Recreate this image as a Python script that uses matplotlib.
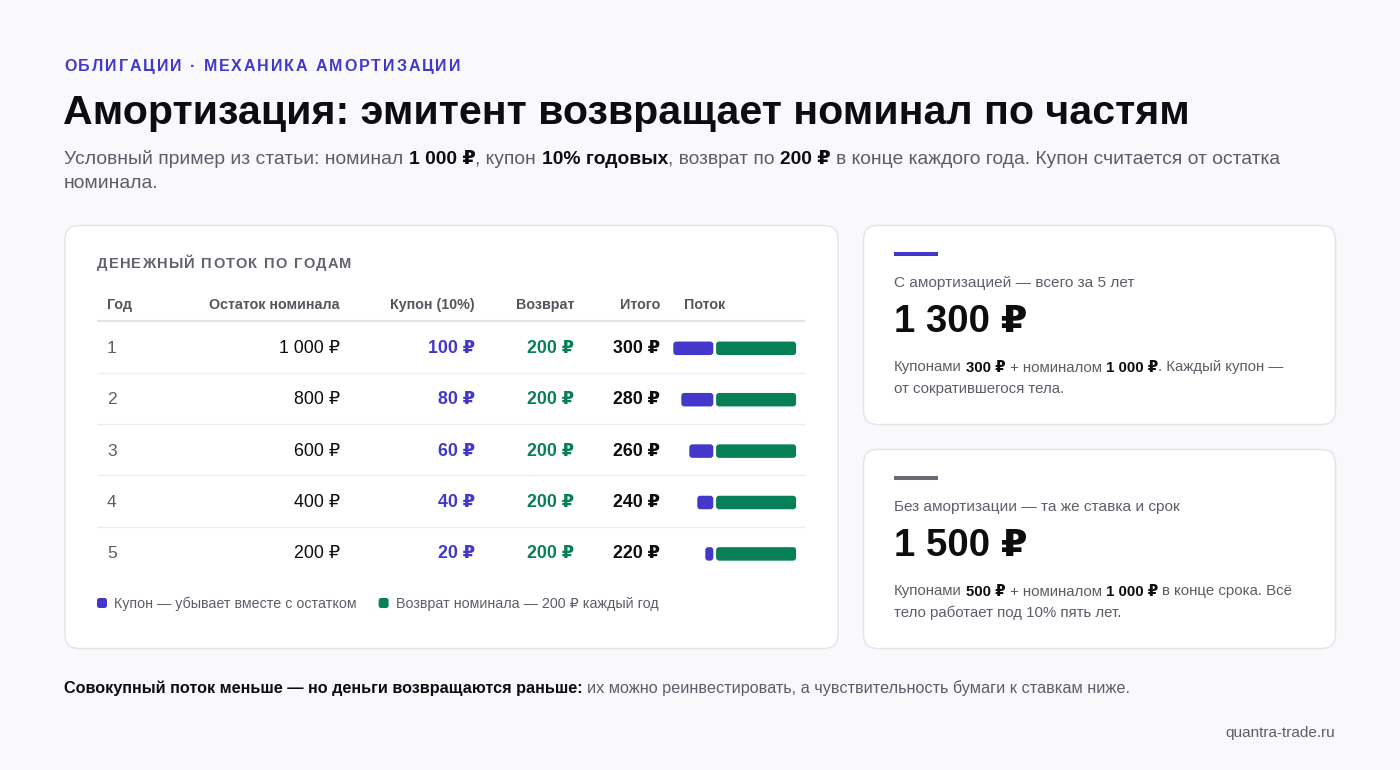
import matplotlib.pyplot as plt
from matplotlib.patches import FancyBboxPatch

plt.rcParams['font.family'] = ['Liberation Sans', 'DejaVu Sans']

# ---------------- данные ----------------
years = [1, 2, 3, 4, 5]
remainder = [1000, 800, 600, 400, 200]
coupon = [100, 80, 60, 40, 20]
repay = [200, 200, 200, 200, 200]
total = [300, 280, 260, 240, 220]
columns = ['Год', 'Остаток номинала', 'Купон (10%)', 'Возврат', 'Итого', 'Поток']
sum_amort = 1300
sum_plain = 1500
coupons_amort = 300
coupons_plain = 500
nominal = 1000

# ---------------- стиль ----------------
BG = '#f9f9fc'
CARD_EDGE = '#e3e3ea'
BLUE = '#4338ca'
GREEN = '#07805a'
GRAY = '#5d5d68'
HEAD = '#55555e'
BLACK = '#0d0d0f'


def rub(v):
    return f'{v:,}'.replace(',', ' ') + ' ₽'


fig = plt.figure(figsize=(14, 7.7), dpi=100)
fig.patch.set_facecolor(BG)
ax = fig.add_axes([0, 0, 1, 1])
ax.set_xlim(0, 1400)
ax.set_ylim(770, 0)
ax.axis('off')
r = fig.canvas.get_renderer()


def text_w(s, **kw):
    t = ax.text(0, 0, '|' + s + '|', **kw)
    w = t.get_window_extent(r).width
    t.remove()
    t = ax.text(0, 0, '||', **kw)
    w -= t.get_window_extent(r).width
    t.remove()
    return w


def runs(x, y, parts, size):
    # строка из кусков разного начертания
    for s, weight, color in parts:
        kw = dict(fontsize=size, fontweight=weight)
        sp = text_w(' ', **kw)
        core = s.strip()
        x += (len(s) - len(s.lstrip())) * sp
        ax.text(x, y, core, color=color, va='baseline', ha='left', **kw)
        x += text_w(core, **kw) + (len(s) - len(s.rstrip())) * sp
    return x


def spaced(x, y, s, size, color, track):
    kw = dict(fontsize=size, fontweight='bold')
    for ch in s:
        if ch != ' ':
            ax.text(x, y, ch, color=color, va='baseline', ha='left', **kw)
        x += text_w(ch, **kw) + track


def card(x, y, w, h):
    ax.add_patch(FancyBboxPatch((x, y), w, h, boxstyle='round,pad=0,rounding_size=14',
                                fc='white', ec=CARD_EDGE, lw=1))


# ---------------- шапка ----------------
spaced(64, 71, 'ОБЛИГАЦИИ · МЕХАНИКА АМОРТИЗАЦИИ', 11.5, BLUE, 1.9)
ax.text(63, 124, 'Амортизация: эмитент возвращает номинал по частям', fontsize=29.6,
        fontweight='bold', color=BLACK, va='baseline')
runs(64, 164, [('Условный пример из статьи: номинал ', 'normal', GRAY),
               (rub(nominal), 'bold', BLACK),
               (', купон ', 'normal', GRAY),
               ('10% годовых', 'bold', BLACK),
               (', возврат по ', 'normal', GRAY),
               (rub(repay[0]), 'bold', BLACK),
               (' в конце каждого года. Купон считается от остатка', 'normal', GRAY)], 13.9)
runs(64, 188, [('номинала.', 'normal', GRAY)], 13.9)

# ---------------- таблица ----------------
card(65, 225.5, 773, 423)
spaced(97, 268, 'ДЕНЕЖНЫЙ ПОТОК ПО ГОДАМ', 10.5, '#62626c', 1.2)

head_y = 309
ax.text(107, head_y, columns[0], fontsize=10.3, fontweight='bold', color=HEAD, va='baseline')
for name, xr in zip(columns[1:5], [340, 475, 574, 660]):
    ax.text(xr, head_y, name, fontsize=10.3, fontweight='bold', color=HEAD, va='baseline', ha='right')
ax.text(684, head_y, columns[5], fontsize=10.3, fontweight='bold', color=HEAD, va='baseline')
ax.plot([97, 805], [321, 321], color='#e4e4eb', lw=1.6, solid_capstyle='butt')

ROW0, STEP = 348.3, 51.4


def row_y(i):
    return ROW0 + STEP * (i - 1)


for k, yr in enumerate(years):
    yb = row_y(yr) + 4.5
    ax.text(107, yb, str(yr), fontsize=12.5, color=GRAY, va='baseline')
    ax.text(340, yb, rub(remainder[k]), fontsize=12.8, color=BLACK, va='baseline', ha='right')
    ax.text(475, yb, rub(coupon[k]), fontsize=12.8, fontweight='bold', color=BLUE,
            va='baseline', ha='right')
    ax.text(574, yb, rub(repay[k]), fontsize=12.8, fontweight='bold', color=GREEN,
            va='baseline', ha='right')
    ax.text(660, yb, rub(total[k]), fontsize=12.8, fontweight='bold', color=BLACK,
            va='baseline', ha='right')
    if k < len(years) - 1:
        ys = row_y(yr) + STEP / 2 - 1.5
        ax.plot([97, 805], [ys, ys], color='#ececf1', lw=0.9, solid_capstyle='butt')

# столбики потока: 0.4 px на рубль
PX = 0.4
ZERO = 714.7
XMIN, XMAX = -130, 210
GAP = 3.5
top = row_y(1) - STEP / 2
axb = fig.add_axes([(ZERO + XMIN * PX) / 1400, 1 - (top + STEP * 5) / 770,
                    (XMAX - XMIN) * PX / 1400, STEP * 5 / 770])
axb.set_xlim(XMIN, XMAX)
axb.set_ylim(5.5, 0.5)
axb.axis('off')
bh = 13.5 / STEP
b1 = axb.barh(years, [-c for c in coupon], left=-GAP, height=bh, color=BLUE)
b2 = axb.barh(years, repay, left=GAP, height=bh, color=GREEN)
rad = 3 / PX
asp = (3 / STEP) / rad
for rect in list(b1) + list(b2):
    bb = rect.get_bbox()
    x0, w = min(bb.x0, bb.x1), abs(bb.width)
    y0, h = min(bb.y0, bb.y1), abs(bb.height)
    axb.add_patch(FancyBboxPatch((x0, y0), w, h,
                                 boxstyle=f'round,pad=0,rounding_size={min(rad, w / 2)}',
                                 mutation_aspect=asp, fc=rect.get_facecolor(), ec='none'))
    rect.remove()

# легенда
lx = 97
for label, col in [('Купон — убывает вместе с остатком', BLUE),
                   (f'Возврат номинала — {rub(repay[0])} каждый год', GREEN)]:
    ax.add_patch(FancyBboxPatch((lx, 598), 10, 10, boxstyle='round,pad=0,rounding_size=2.5',
                                fc=col, ec='none'))
    ax.text(lx + 17, 608, label, fontsize=10.3, color=GRAY, va='baseline')
    lx += 17 + text_w(label, fontsize=10.3) + 22

# ---------------- карточки итогов ----------------
cards = [
    (225.5, BLUE, 'С амортизацией — всего за 5 лет', sum_amort,
     [[('Купонами ', 'normal', GRAY), (rub(coupons_amort), 'bold', BLACK),
       (' + номиналом ', 'normal', GRAY), (rub(nominal), 'bold', BLACK),
       ('. Каждый купон —', 'normal', GRAY)],
      [('от сократившегося тела.', 'normal', GRAY)]]),
    (449.5, '#6b6b75', 'Без амортизации — та же ставка и срок', sum_plain,
     [[('Купонами ', 'normal', GRAY), (rub(coupons_plain), 'bold', BLACK),
       (' + номиналом ', 'normal', GRAY), (rub(nominal), 'bold', BLACK),
       (' в конце срока. Всё', 'normal', GRAY)],
      [('тело работает под 10% пять лет.', 'normal', GRAY)]]),
]
for ty, acc, label, value, desc in cards:
    card(863.5, ty, 472, 199)
    ax.plot([894, 938], [ty + 28, ty + 28], color=acc, lw=2.9, solid_capstyle='butt')
    ax.text(894, ty + 61, label, fontsize=11.1, color=GRAY, va='baseline')
    ax.text(894, ty + 107, rub(value), fontsize=27.6, fontweight='bold', color=BLACK, va='baseline')
    for j, line in enumerate(desc):
        runs(894, ty + 146 + 21.5 * j, line, 10.8)

# ---------------- подвал ----------------
runs(64, 693, [('Совокупный поток меньше — но деньги возвращаются раньше:', 'bold', BLACK),
               (' их можно реинвестировать, а чувствительность бумаги к ставкам ниже.', 'normal', GRAY)],
     11.7)
ax.text(1335, 737, 'quantra-trade.ru', fontsize=11, color=GRAY, va='baseline', ha='right')

fig.savefig('out.png', dpi=100, facecolor=BG)
